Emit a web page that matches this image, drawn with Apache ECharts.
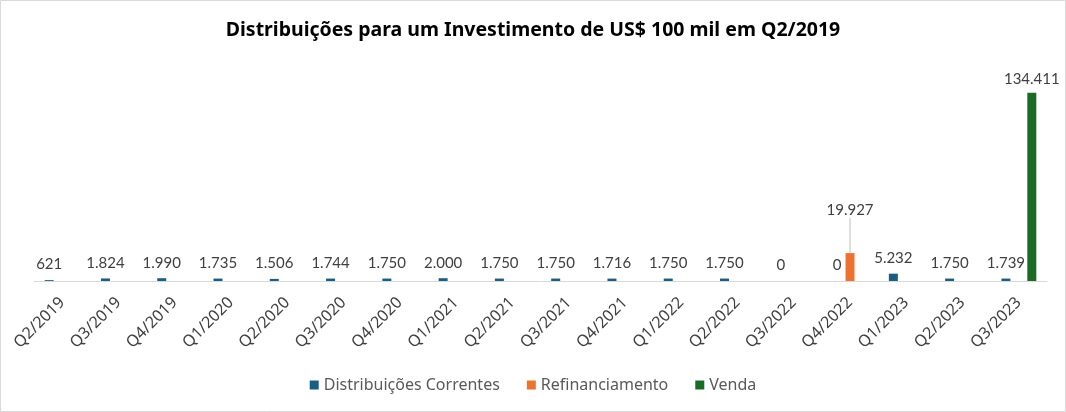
<!DOCTYPE html>
<html>
<head>
<meta charset="utf-8">
<script src="https://cdn.jsdelivr.net/npm/echarts@6/dist/echarts.min.js"></script>
<style>
html,body{margin:0;padding:0;background:#fff;}
#chart{width:1066px;height:412px;}
</style>
</head>
<body>
<div id="chart"></div>
<script>
const categories = ["Q2/2019","Q3/2019","Q4/2019","Q1/2020","Q2/2020","Q3/2020","Q4/2020","Q1/2021","Q2/2021","Q3/2021","Q4/2021","Q1/2022","Q2/2022","Q3/2022","Q4/2022","Q1/2023","Q2/2023","Q3/2023"];
const distribuicoes = [621,1824,1990,1735,1506,1744,1750,2000,1750,1750,1716,1750,1750,0,0,5232,1750,1739];
const refinanciamento = [null,null,null,null,null,null,null,null,null,null,null,null,null,null,19927,null,null,null];
const venda = [null,null,null,null,null,null,null,null,null,null,null,null,null,null,null,null,null,134411];

const fmt = v => (v === null || v === undefined) ? '' : Math.round(v).toString().replace(/\B(?=(\d{3})+(?!\d))/g, '.');
const FONT = 'Lato, "Noto Sans", sans-serif';
const FONT2 = '"Noto Sans", sans-serif';

const chart = echarts.init(document.getElementById('chart'));
chart.setOption({
  animation: false,
  backgroundColor: '#fff',
  graphic: [{type:'rect', shape:{x:0.5,y:0.5,width:1065,height:411}, style:{fill:'none', stroke:'#d9d9d9', lineWidth:1}}],
  title: {
    text: 'Distribuições para um Investimento de US$ 100 mil em Q2/2019',
    left: 'center', top: 15,
    textStyle: {fontFamily: FONT2, fontSize: 19.5, fontWeight: 'bold', color: '#000'}
  },
  legend: {
    top: 372, left: 'center',
    itemWidth: 9, itemHeight: 9, itemGap: 27,
    icon: 'rect',
    textStyle: {fontFamily: FONT2, fontSize: 16, color: '#595959'},
    data: ['Distribuições Correntes','Refinanciamento','Venda']
  },
  grid: {left: 34, right: 19, top: 57, bottom: 131},
  xAxis: {
    type: 'category', data: categories,
    axisLine: {lineStyle: {color: '#d9d9d9'}},
    axisTick: {show: false},
    axisLabel: {rotate: 45, interval: 0, fontFamily: FONT2, fontSize: 16, color: '#404040', margin: 19}
  },
  yAxis: {
    type: 'value', min: 0, max: 160000,
    show: false, splitLine: {show: false}
  },
  series: [
    {
      name: 'Distribuições Correntes', type: 'bar', data: distribuicoes,
      barWidth: 9, barGap: '44%',
      itemStyle: {color: '#1b5e84'},
      label: {show: true, position: 'top', distance: 8, fontFamily: FONT, fontSize: 15, color: '#404040',
        formatter: p => fmt(p.value)}
    },
    {
      name: 'Refinanciamento', type: 'bar', data: refinanciamento,
      barWidth: 9, barGap: '44%',
      itemStyle: {color: '#ed7230'},
      label: {show: true, position: 'top', distance: 5, fontFamily: FONT, fontSize: 15, color: '#404040',
        formatter: p => fmt(p.value)},
      labelLayout: {dy: -30},
      labelLine: {show: true, lineStyle: {color: '#bfbfbf', width: 1}}
    },
    {
      name: 'Venda', type: 'bar', data: venda,
      barWidth: 9, barGap: '44%',
      itemStyle: {color: '#1a6b24'},
      label: {show: true, position: 'top', distance: 6, fontFamily: FONT, fontSize: 15, color: '#404040',
        formatter: p => fmt(p.value)}
    }
  ]
});
</script>
</body>
</html>
